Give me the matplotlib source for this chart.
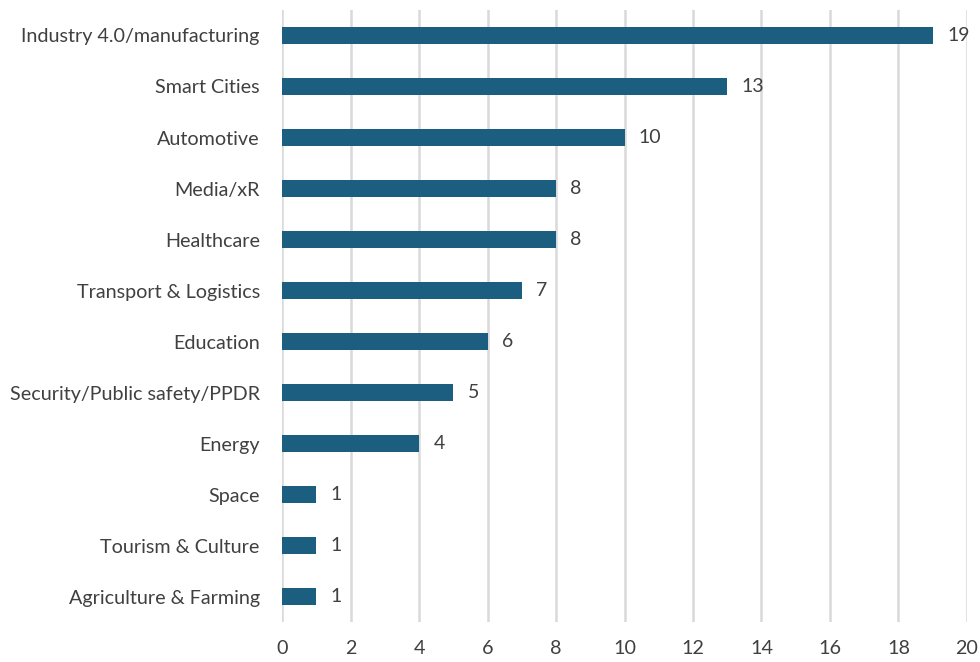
import matplotlib.pyplot as plt

categories = ['Industry 4.0/manufacturing', 'Smart Cities', 'Automotive', 'Media/xR',
              'Healthcare', 'Transport & Logistics', 'Education',
              'Security/Public safety/PPDR', 'Energy', 'Space',
              'Tourism & Culture', 'Agriculture & Farming']
counts = [19, 13, 10, 8, 8, 7, 6, 5, 4, 1, 1, 1]
x_ticks = list(range(0, 21, 2))

plt.rcParams['font.family'] = ['Lato', 'DejaVu Sans']
text_col = '#404040'

fig = plt.figure(figsize=(9.8, 6.62), dpi=100)
ax = fig.add_axes([0.2878, 0.0604, 0.6989, 0.9245])

ypos = list(range(len(categories)))[::-1]
ax.barh(ypos, counts, height=0.35, color='#1b5e7f', zorder=3)
for y, v in zip(ypos, counts):
    ax.text(v + 0.42, y, str(v), va='center', ha='left', fontsize=14, color=text_col)

ax.set_xlim(0, 20)
ax.set_ylim(-0.5, len(categories) - 0.5)
ax.set_xticks(x_ticks)
ax.set_yticks(ypos)
ax.set_yticklabels(categories)
ax.tick_params(axis='both', length=0, labelsize=14.2, colors=text_col)
ax.tick_params(axis='x', pad=13)
ax.tick_params(axis='y', pad=16)
ax.grid(axis='x', color='#d9d9d9', linewidth=1.8, zorder=0)
for s in ax.spines.values():
    s.set_visible(False)

plt.savefig('out.png', dpi=100)
